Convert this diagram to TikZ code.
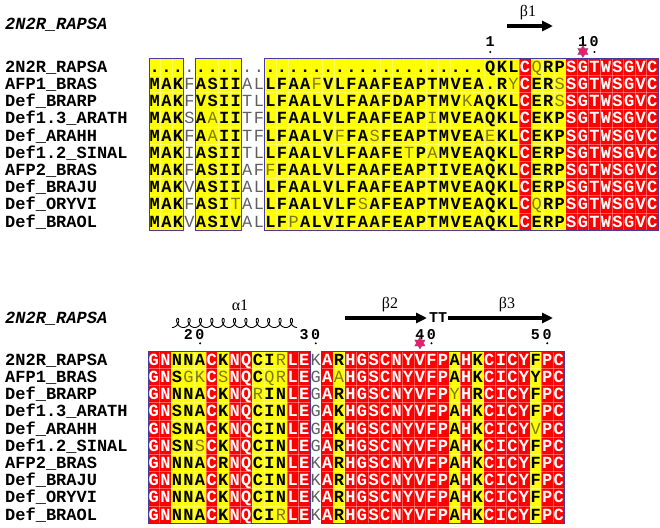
\documentclass[tikz,border=0pt]{standalone}
\usepackage{fontspec}
\setmonofont{Liberation Mono}
\newfontfamily\labfont{Liberation Serif}
\usetikzlibrary{arrows.meta,shapes.geometric}

\definecolor{idred}{RGB}{255,0,0}
\definecolor{simyel}{RGB}{255,255,0}
\definecolor{varcol}{RGB}{125,120,30}
\definecolor{gapcol}{RGB}{95,95,95}
\definecolor{framecol}{RGB}{70,60,160}
\definecolor{starcol}{RGB}{235,30,110}

\tikzset{
  res/.style={inner sep=0pt,anchor=base},
  sim/.style={res,text=black,font=\ttfamily\bfseries\fontsize{17}{17}\selectfont},
  idn/.style={res,text=white,font=\ttfamily\bfseries\fontsize{17}{17}\selectfont},
  var/.style={res,text=varcol,font=\ttfamily\fontsize{17}{17}\selectfont},
  gap/.style={res,text=gapcol,font=\ttfamily\fontsize{17}{17}\selectfont},
  seqname/.style={inner sep=0pt,anchor=base west,font=\ttfamily\bfseries\fontsize{17}{17}\selectfont},
  head/.style={seqname,font=\ttfamily\bfseries\itshape\fontsize{17}{17}\selectfont},
  resnum/.style={inner sep=0pt,anchor=base east,font=\ttfamily\bfseries\fontsize{15}{15}\selectfont},
  sslab/.style={inner sep=0pt,font=\labfont\fontsize{16}{16}\selectfont},
  strand/.style={line width=3.5pt,-{Triangle[length=11pt,width=10pt]}},
  helix/.style={line width=0.9pt},
  boxframe/.style={draw=framecol,line width=0.8pt},
  cellline/.style={draw=white,opacity=0.35,line width=0.4pt},
  starmark/.style={star,star points=6,star point ratio=1.7,fill=starcol,draw=black!60,line width=0.3pt,minimum size=12pt,inner sep=0pt}
}

\def\colw{11.57}
\def\rowh{17.2}
% column classes: 0 = no box, 1 = similar, 2 = identical
\def\topcls{{1,1,1,0,1,1,1,1,0,0,1,1,1,1,1,1,1,1,1,1,1,1,1,1,1,1,1,1,1,1,1,1,2,1,1,1,2,2,2,2,2,2,2,2}}
\def\botcls{{2,2,1,1,1,2,1,2,2,1,1,1,2,2,0,2,1,2,2,2,2,2,2,2,2,2,1,2,1,2,2,2,2,1,2,2}}

\newcommand\dg[1]{\makebox[11.57pt]{#1}}

% column backgrounds of a block
\newcommand\seqbg[4]{%
  \foreach \col in {1,...,#2} {
    \pgfmathtruncatemacro\ccls{#1[\col-1]}
    \ifcase\ccls\or
      \fill[simyel] ({#3+(\col-1)*\colw},#4) rectangle ++({\colw+0.3},{10*\rowh});
    \or
      \fill[idred] ({#3+(\col-1)*\colw},#4) rectangle ++({\colw+0.3},{10*\rowh});
    \fi
  }%
}

% one line of the alignment (lower case = weak residue, - = gap dot)
\newcommand\seqrow[6]{%
  \foreach \ch [count=\col] in {#6} {%
    \pgfmathtruncatemacro\ccls{#3[\col-1]}%
    \ifnum\expandafter`\ch>96 \def\sty{var}\else
      \ifcase\ccls\def\sty{gap}\or\def\sty{sim}\or\def\sty{idn}\fi
    \fi
    \node[\sty] (#1#2-\col) at ({#4+(\col-0.5)*\colw},{#5+(#2-0.5)*\rowh+5.6})
      {\ifnum\expandafter`\ch=45 .\else\MakeUppercase{\ch}\fi};
  }%
}

\begin{document}
\begin{tikzpicture}[x=1pt,y=-1pt]
  \useasboundingbox (0,0) rectangle (660,527);

  % Block 1
  \node[head] (thead) at (5,30) {2N2R\_RAPSA};
  \node[sslab] (b1) at (528,13) {β1};
  \draw[strand] (507,26) -- (553,26);
  \node[resnum] (n1) at (496.1,46) {\dg1};
  \node[resnum] (n10) at (600.2,46) {\dg1\dg0};
  \fill (490.3,52) circle (1.1);
  \fill (594.4,52) circle (1.1);
  \node[starmark] (st1) at (582.9,51.5) {};

  \seqbg{\topcls}{44}{149}{58}
  \foreach \col in {1,...,43} \draw[cellline] ({149+\col*\colw},58) -- ++(0,{10*\rowh});
  \foreach \rw in {1,...,9} \draw[cellline] (149,{58+\rw*\rowh}) -- ++({44*\colw},0);
  \draw[boxframe] (149,58) rectangle ++({3*\colw},{10*\rowh});
  \draw[boxframe] ({149+4*\colw},58) rectangle ++({4*\colw},{10*\rowh});
  \draw[boxframe] ({149+10*\colw},58) rectangle ++({34*\colw},{10*\rowh});

  \seqrow{t}{1}{\topcls}{149}{58}{-,-,-,-,-,-,-,-,-,-,-,-,-,-,-,-,-,-,-,-,-,-,-,-,-,-,-,-,-,Q,K,L,C,q,R,P,S,G,T,W,S,G,V,C}
  \seqrow{t}{2}{\topcls}{149}{58}{M,A,K,F,A,S,I,I,A,L,L,F,A,A,f,V,L,F,A,A,F,E,A,P,T,M,V,E,A,-,R,y,C,E,R,s,S,G,T,W,S,G,V,C}
  \seqrow{t}{3}{\topcls}{149}{58}{M,A,K,F,V,S,I,I,T,L,L,F,A,A,L,V,L,F,A,A,F,D,A,P,T,M,V,k,A,Q,K,L,C,E,R,s,S,G,T,W,S,G,V,C}
  \seqrow{t}{4}{\topcls}{149}{58}{M,A,K,S,A,a,I,I,T,F,L,F,A,A,L,V,L,F,A,A,F,E,A,P,i,M,V,E,A,Q,K,L,C,E,K,P,S,G,T,W,S,G,V,C}
  \seqrow{t}{5}{\topcls}{149}{58}{M,A,K,F,A,a,I,I,T,F,L,F,A,A,L,V,f,F,A,s,F,E,A,P,T,M,V,E,A,e,K,L,C,E,K,P,S,G,T,W,S,G,V,C}
  \seqrow{t}{6}{\topcls}{149}{58}{M,A,K,I,A,S,I,I,T,L,L,F,A,A,L,V,L,F,A,A,F,E,t,P,a,M,V,E,A,Q,K,L,C,E,R,P,S,G,T,W,S,G,V,C}
  \seqrow{t}{7}{\topcls}{149}{58}{M,A,K,F,A,S,I,I,A,F,f,F,A,A,L,V,L,F,A,A,F,E,A,P,T,I,V,E,A,Q,K,L,C,E,R,P,S,G,T,W,S,G,V,C}
  \seqrow{t}{8}{\topcls}{149}{58}{M,A,K,V,A,S,I,I,A,L,L,F,A,A,L,V,L,F,A,A,F,E,A,P,T,M,V,E,A,Q,K,L,C,E,R,P,S,G,T,W,S,G,V,C}
  \seqrow{t}{9}{\topcls}{149}{58}{M,A,K,F,A,S,I,t,A,L,L,F,A,A,L,V,L,F,s,A,F,E,A,P,T,M,V,E,A,Q,K,L,C,q,R,P,S,G,T,W,S,G,V,C}
  \seqrow{t}{10}{\topcls}{149}{58}{M,A,K,V,A,S,I,V,A,L,L,F,p,A,L,V,I,F,A,A,F,E,A,P,T,M,V,E,A,Q,K,L,C,E,R,P,S,G,T,W,S,G,V,C}

  % Block 2
  \node[head] (bhead) at (5,323) {2N2R\_RAPSA};
  \node[sslab] (a1) at (240,305) {α1};
  \draw[helix] plot[domain=0:69.1,samples=500,variable=\t]
    ({172+1.81*\t+3.4*sin(\t r)},{327.5-4.6*(1-cos(\t r))});
  \node[sslab] (b2) at (390,305) {β2};
  \draw[strand] (345,318) -- (427,318);
  \node[resnum,anchor=center] (tt1) at (438,318) {TT};
  \node[sslab] (b3) at (507,305) {β3};
  \draw[strand] (448,318) -- (553,318);
  \node[resnum] (n20) at (205.9,339) {\dg2\dg0};
  \node[resnum] (n30) at (321.6,339) {\dg3\dg0};
  \node[resnum] (n40) at (437.3,339) {\dg4\dg0};
  \node[resnum] (n50) at (553,339) {\dg5\dg0};
  \foreach \x in {200.1,315.8,431.5,547.2} \fill (\x,343.3) circle (1.1);
  \node[starmark] (st2) at (419.9,343) {};

  \seqbg{\botcls}{36}{148}{351}
  \foreach \col in {1,...,35} \draw[cellline] ({148+\col*\colw},351) -- ++(0,{10*\rowh});
  \foreach \rw in {1,...,9} \draw[cellline] (148,{351+\rw*\rowh}) -- ++({36*\colw},0);
  \draw[boxframe] (148,351) rectangle ++({14*\colw},{10*\rowh});
  \draw[boxframe] ({148+15*\colw},351) rectangle ++({21*\colw},{10*\rowh});

  \seqrow{b}{1}{\botcls}{148}{351}{G,N,N,N,A,C,K,N,Q,C,I,r,L,E,K,A,R,H,G,S,C,N,Y,V,F,P,A,H,K,C,I,C,Y,F,P,C}
  \seqrow{b}{2}{\botcls}{148}{351}{G,N,S,g,k,C,s,N,Q,C,q,r,L,E,G,A,a,H,G,S,C,N,Y,V,F,P,A,H,K,C,I,C,Y,Y,P,C}
  \seqrow{b}{3}{\botcls}{148}{351}{G,N,N,N,A,C,K,N,Q,r,I,N,L,E,G,A,R,H,G,S,C,N,Y,V,F,P,y,H,R,C,I,C,Y,F,P,C}
  \seqrow{b}{4}{\botcls}{148}{351}{G,N,S,N,A,C,K,N,Q,C,I,N,L,E,G,A,K,H,G,S,C,N,Y,V,F,P,A,H,K,C,I,C,Y,F,P,C}
  \seqrow{b}{5}{\botcls}{148}{351}{G,N,S,N,A,C,K,N,Q,C,I,N,L,E,G,A,K,H,G,S,C,N,Y,V,F,P,A,H,K,C,I,C,Y,v,P,C}
  \seqrow{b}{6}{\botcls}{148}{351}{G,N,S,N,s,C,K,N,Q,C,I,N,L,E,G,A,R,H,G,S,C,N,Y,V,F,P,A,H,K,C,I,C,Y,F,P,C}
  \seqrow{b}{7}{\botcls}{148}{351}{G,N,N,N,A,C,R,N,Q,C,I,N,L,E,K,A,R,H,G,S,C,N,Y,V,F,P,A,H,K,C,I,C,Y,F,P,C}
  \seqrow{b}{8}{\botcls}{148}{351}{G,N,N,N,A,C,K,N,Q,C,I,N,L,E,K,A,R,H,G,S,C,N,Y,V,F,P,A,H,K,C,I,C,Y,F,P,C}
  \seqrow{b}{9}{\botcls}{148}{351}{G,N,N,N,A,C,K,N,Q,C,I,N,L,E,K,A,R,H,G,S,C,N,Y,V,F,P,A,H,K,C,I,C,Y,F,P,C}
  \seqrow{b}{10}{\botcls}{148}{351}{G,N,N,N,A,C,K,N,Q,C,I,r,L,E,K,A,R,H,G,S,C,N,Y,V,F,P,A,H,K,C,I,C,Y,F,P,C}

  % sequence names
  \foreach \nm [count=\rw] in {2N2R\_RAPSA,AFP1\_BRAS,Def\_BRARP,Def1.3\_ARATH,Def\_ARAHH,Def1.2\_SINAL,AFP2\_BRAS,Def\_BRAJU,Def\_ORYVI,Def\_BRAOL} {
    \node[seqname] (tn\rw) at (5,{58+(\rw-0.5)*\rowh+5.6}) {\nm};
    \node[seqname] (bn\rw) at (5,{351+(\rw-0.5)*\rowh+5.6}) {\nm};
  }
\end{tikzpicture}
\end{document}
